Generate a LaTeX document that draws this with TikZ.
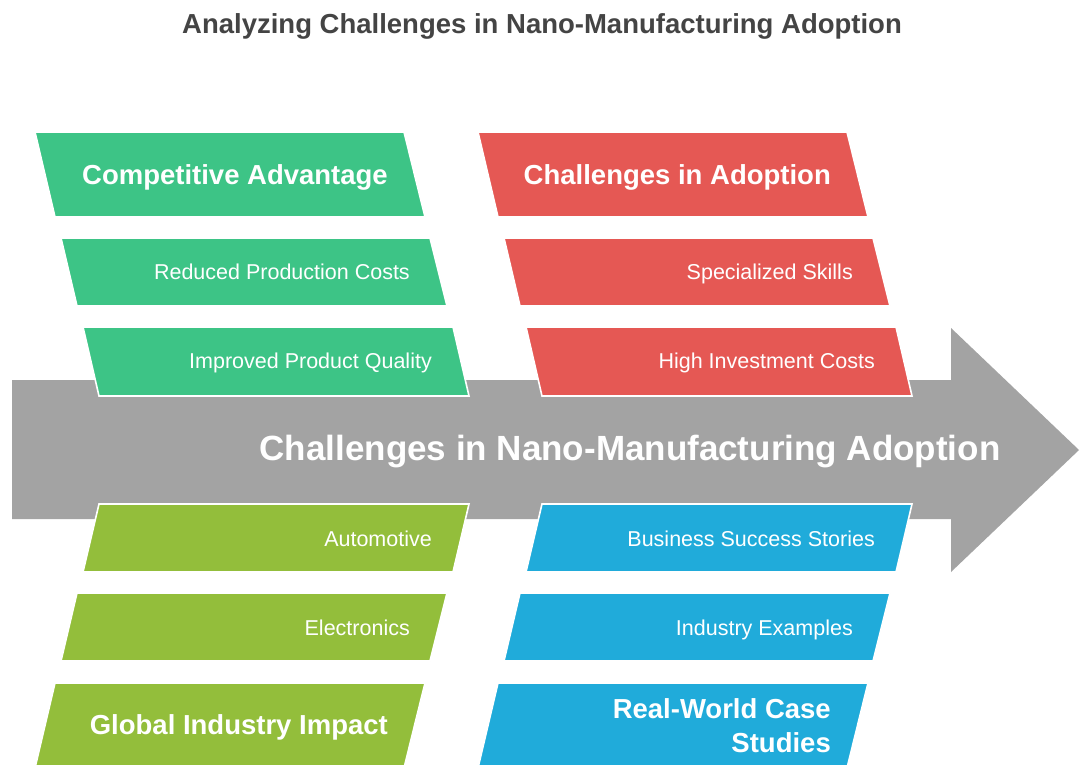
\documentclass[tikz,border=0pt]{standalone}
\usepackage{fontspec}
\setmainfont{Liberation Sans}
\definecolor{spinegray}{HTML}{A3A3A3}
\definecolor{advgreen}{HTML}{3DC486}
\definecolor{chalred}{HTML}{E55854}
\definecolor{impolive}{HTML}{93BE3B}
\definecolor{caseblue}{HTML}{20ABDA}
\definecolor{titlegray}{HTML}{444444}
\begin{document}
\begin{tikzpicture}[x=1pt,y=-1pt,
  slab/.style={draw=white, line width=1.6pt, line join=miter},
  headtxt/.style={text=white, font=\bfseries\fontsize{27.5}{34}\selectfont, anchor=mid east, inner sep=0pt},
  itemtxt/.style={text=white, font=\fontsize{21.5}{26}\selectfont, anchor=mid east, inner sep=0pt}]
\useasboundingbox (0,0) rectangle (1081,765);
\clip (0,0) rectangle (1081,765);
\fill[white] (0,0) rectangle (1081,765);

% title
\node[text=titlegray, font=\bfseries\fontsize{27.5}{33}\selectfont, anchor=mid, inner sep=0pt]
  (title) at (542,30.8) {Analyzing Challenges in Nano-Manufacturing Adoption};

% spine arrow
\fill[spinegray] (12,380) -- (951,380) -- (951,328) -- (1079,450) -- (951,572)
  -- (951,519) -- (12,519) -- cycle;
\node[text=white, font=\bfseries\fontsize{35}{42}\selectfont, anchor=mid, inner sep=0pt]
  (spine) at (630,457.5) {Challenges in Nano-Manufacturing Adoption};

% upper left bones: competitive advantage
\filldraw[slab, fill=advgreen] (35,132) -- (404,132) -- (425,217) -- (55,217) -- cycle;
\filldraw[slab, fill=advgreen] (61,238) -- (430,238) -- (447,306) -- (77,306) -- cycle;
\filldraw[slab, fill=advgreen] (83,327) -- (453,327) -- (469,396) -- (99,396) -- cycle;
\node[headtxt] (adv) at (388,181.5) {Competitive Advantage};
\node[itemtxt] (cost) at (410,276.5) {Reduced Production Costs};
\node[itemtxt] (qual) at (432,365.5) {Improved Product Quality};

% upper right bones: challenges in adoption
\filldraw[slab, fill=chalred] (478,132) -- (847,132) -- (868,217) -- (498,217) -- cycle;
\filldraw[slab, fill=chalred] (504,238) -- (873,238) -- (890,306) -- (520,306) -- cycle;
\filldraw[slab, fill=chalred] (526,327) -- (896,327) -- (912,396) -- (542,396) -- cycle;
\node[headtxt] (chal) at (831,181.5) {Challenges in Adoption};
\node[itemtxt] (skill) at (853,276.5) {Specialized Skills};
\node[itemtxt] (invest) at (875,365.5) {High Investment Costs};

% lower left bones: global industry impact
\filldraw[slab, fill=impolive] (99,504) -- (469,504) -- (453,572) -- (83,572) -- cycle;
\filldraw[slab, fill=impolive] (77,593) -- (447,593) -- (430,661) -- (61,661) -- cycle;
\filldraw[slab, fill=impolive] (55,683) -- (425,683) -- (404,768) -- (35,768) -- cycle;
\node[itemtxt] (auto) at (432,543.5) {Automotive};
\node[itemtxt] (elec) at (410,632.5) {Electronics};
\node[headtxt] (impact) at (388,731.5) {Global Industry Impact};

% lower right bones: real-world case studies
\filldraw[slab, fill=caseblue] (542,504) -- (912,504) -- (896,572) -- (526,572) -- cycle;
\filldraw[slab, fill=caseblue] (520,593) -- (890,593) -- (873,661) -- (504,661) -- cycle;
\filldraw[slab, fill=caseblue] (498,683) -- (868,683) -- (847,768) -- (478,768) -- cycle;
\node[itemtxt] (biz) at (875,543.5) {Business Success Stories};
\node[itemtxt] (indus) at (853,632.5) {Industry Examples};
\node[text=white, font=\bfseries\fontsize{27.5}{34}\selectfont, align=right, anchor=east, inner sep=0pt]
  (cases) at (831,726) {Real-World Case\\Studies};
\end{tikzpicture}
\end{document}
